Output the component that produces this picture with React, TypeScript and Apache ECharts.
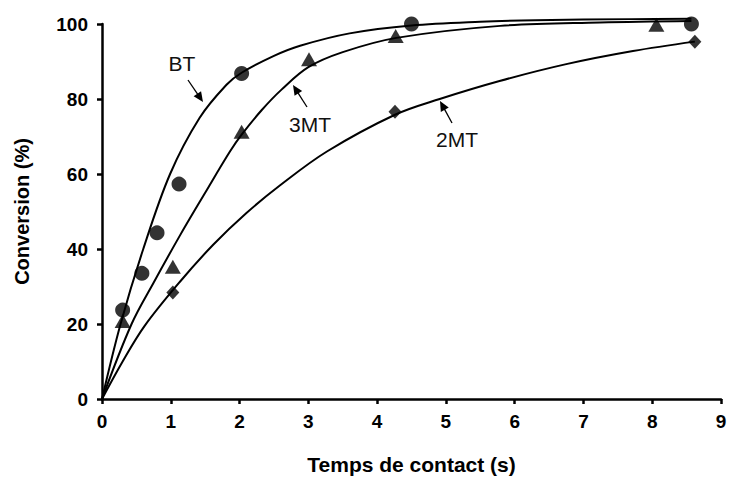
import React, { useEffect, useRef } from "react";
import * as echarts from "echarts";

// Measured points (x = contact time in s, y = conversion in %)
const btPoints: [number, number][] = [
  [0.3, 23.7], [0.58, 33.5], [0.8, 44.3], [1.12, 57.3], [2.03, 86.8], [4.5, 100], [8.57, 100],
];
const mt3Points: [number, number][] = [
  [0.3, 20.8], [1.03, 35.3], [2.03, 71.3], [3.01, 90.6], [4.27, 96.8], [8.06, 99.8],
];
const mt2Points: [number, number][] = [
  [1.03, 28.4], [4.26, 76.6], [8.62, 95.3],
];

// Fitted curves
const btCurve: [number, number][] = [
  [0, 0], [0.27, 20], [0.6, 40], [0.99, 60], [1.42, 75], [1.81, 83.8], [2.03, 87],
  [2.5, 91.5], [2.88, 94.2], [3.6, 97.5], [4.5, 99.6], [5.5, 100.6], [6.3, 101], [7.7, 101.3], [8.57, 101.4],
];
const mt3Curve: [number, number][] = [
  [0, 0], [0.43, 20], [0.75, 31], [1.13, 43.5], [1.5, 55], [1.86, 66], [2.03, 70.5],
  [2.32, 77], [2.61, 82.5], [3.0, 88.5], [3.5, 92.5], [4.28, 96.3], [5.79, 99.5], [7.24, 100.4], [8.57, 100.8],
];
const mt2Curve: [number, number][] = [
  [0, 0], [0.3, 10], [0.62, 19.5], [1.13, 31.2], [1.62, 41.2], [2.1, 49.6], [2.59, 57],
  [3.27, 66], [4.26, 75.8], [4.91, 80], [5.78, 84.8], [6.75, 89.3], [7.72, 92.8], [8.62, 95.3],
];

const seriesNames = ["BT", "3MT", "2MT"];
const xAxisTitle = "Temps de contact (s)";
const yAxisTitle = "Conversion (%)";

const FONT = "'Liberation Sans', Arial, sans-serif";

function arrow(tail: [number, number], tip: [number, number]) {
  const dx = tip[0] - tail[0];
  const dy = tip[1] - tail[1];
  const len = Math.sqrt(dx * dx + dy * dy);
  const ux = dx / len;
  const uy = dy / len;
  const headLen = 10;
  const headW = 4.5;
  const bx = tip[0] - ux * headLen;
  const by = tip[1] - uy * headLen;
  return [
    {
      type: "line",
      shape: { x1: tail[0], y1: tail[1], x2: bx + ux * 1, y2: by + uy * 1 },
      style: { stroke: "#000", lineWidth: 1.3 },
      z: 100,
    },
    {
      type: "polygon",
      shape: {
        points: [
          [tip[0], tip[1]],
          [bx - uy * headW, by + ux * headW],
          [bx + uy * headW, by - ux * headW],
        ],
      },
      style: { fill: "#000" },
      z: 100,
    },
  ];
}

export default function App() {
  const ref = useRef<HTMLDivElement>(null);
  useEffect(() => {
    if (!ref.current) return;
    const chart = echarts.init(ref.current, undefined, { renderer: "svg" });
    const axisLabel = {
      color: "#000",
      fontSize: 19,
      fontWeight: "bold",
      fontFamily: FONT,
    };
    const lineSeries = (name: string, data: [number, number][]) => ({
      name: name + " fit",
      type: "line",
      data,
      smooth: 0.35,
      clip: false,
      showSymbol: false,
      symbol: "none",
      lineStyle: { color: "#000", width: 2 },
      z: 2,
    });
    const annot = (text: string, x: number, y: number) => ({
      type: "text",
      x,
      y,
      style: { text, fill: "#111", font: `21px ${FONT}`, align: "center", verticalAlign: "middle" },
      z: 100,
    });
    chart.setOption({
      animation: false,
      backgroundColor: "#fff",
      grid: { left: 102, right: 13, top: 24, bottom: 84 },
      xAxis: {
        type: "value",
        min: 0,
        max: 9,
        interval: 1,
        name: xAxisTitle,
        nameLocation: "middle",
        nameGap: 55,
        nameTextStyle: { color: "#000", fontSize: 21, fontWeight: "bold", fontFamily: FONT, verticalAlign: "top" },
        axisLine: { show: true, lineStyle: { color: "#000", width: 2.5 } },
        axisTick: { show: true, inside: false, length: 5, lineStyle: { color: "#000", width: 2.5 } },
        axisLabel: { ...axisLabel, margin: 13 },
        splitLine: { show: false },
      },
      yAxis: {
        type: "value",
        min: 0,
        max: 100,
        interval: 20,
        name: yAxisTitle,
        nameLocation: "middle",
        nameGap: 70,
        nameTextStyle: { color: "#000", fontSize: 20, fontWeight: "bold", fontFamily: FONT },
        axisLine: { show: true, lineStyle: { color: "#000", width: 2.5 } },
        axisTick: { show: true, inside: false, length: 5, lineStyle: { color: "#000", width: 2.5 } },
        axisLabel: { ...axisLabel, margin: 14 },
        splitLine: { show: false },
      },
      series: [
        lineSeries(seriesNames[0], btCurve),
        lineSeries(seriesNames[1], mt3Curve),
        lineSeries(seriesNames[2], mt2Curve),
        {
          name: seriesNames[1],
          type: "scatter",
          data: mt3Points,
          symbol: "triangle",
          symbolSize: [16, 14],
          clip: false,
          itemStyle: { color: "#000" },
          z: 4,
        },
        {
          name: seriesNames[0],
          type: "scatter",
          data: btPoints,
          symbol: "circle",
          symbolSize: 15,
          clip: false,
          itemStyle: { color: "#000" },
          z: 5,
        },
        {
          name: seriesNames[2],
          type: "scatter",
          data: mt2Points,
          symbol: "diamond",
          symbolSize: [13, 14],
          clip: false,
          itemStyle: { color: "#000" },
          z: 4,
        },
      ],
      graphic: [
        annot(seriesNames[0], 182, 63),
        annot(seriesNames[1], 310, 124),
        annot(seriesNames[2], 457, 139),
        ...arrow([188, 80], [203, 102]),
        ...arrow([307, 107], [293, 85]),
        ...arrow([452, 123], [440, 101]),
      ],
    });
    return () => chart.dispose();
  }, []);
  return (
    <div
      ref={ref}
      style={{ position: "fixed", left: 0, top: 0, width: 734, height: 483, background: "#fff" }}
    />
  );
}
